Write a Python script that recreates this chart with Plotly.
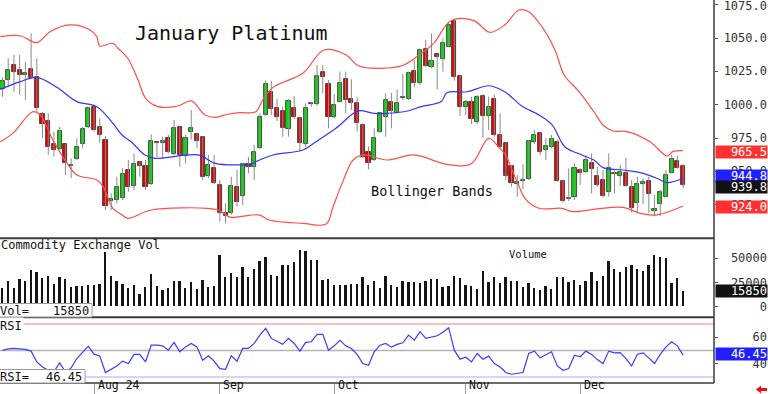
import plotly.graph_objects as go

# ---------------- data ----------------
idx = list(range(120))
opens = [1011.5, 1018.5, 1030.0, 1026.0, 1022.0, 1026.8, 1020.5, 993.0, 987.8, 970.5,
         967.0, 970.5, 953.8, 959.0, 970.3, 983.0, 998.0, 983.5, 973.7, 927.8,
         928.3, 930.2, 951.0, 939.2, 956.8, 954.0, 940.3, 971.8, 971.5, 975.2,
         962.8, 983.0, 961.5, 979.3, 978.0, 976.0, 946.8, 952.8, 939.8, 919.0,
         918.5, 938.5, 931.5, 955.3, 953.5, 967.3, 992.3, 1009.3, 997.8, 995.0,
         982.0, 997.8, 990.3, 970.5, 1000.5, 1000.3, 1024.5, 1015.3, 990.5, 1002.3,
         1019.3, 1004.3, 1001.0, 984.8, 964.3, 958.5, 979.8, 991.0, 1002.3, 994.0,
         1005.0, 1004.0, 1025.3, 1016.0, 1041.5, 1028.5, 1038.0, 1034.0, 1043.5, 1063.0,
         1021.5, 998.5, 1001.8, 987.3, 1006.8, 991.5, 1004.0, 977.3, 971.0, 954.3,
         940.3, 942.8, 944.3, 972.3, 979.0, 966.0, 968.5, 972.2, 943.0, 929.0,
         930.5, 951.0, 949.8, 956.6, 946.8, 943.5, 934.8, 948.0, 946.5, 949.0,
         938.0, 926.5, 940.3, 942.8, 920.5, 925.3, 931.0, 949.0, 957.5, 954.3]
highs = [1020.5, 1034.8, 1037.3, 1037.3, 1032.2, 1053.5, 1034.8, 994.7, 993.5, 979.7,
         983.5, 970.5, 959.8, 974.8, 983.5, 998.5, 999.0, 989.8, 976.5, 933.5,
         946.0, 952.3, 958.5, 963.5, 957.3, 958.5, 977.8, 972.2, 976.0, 977.3,
         988.5, 983.5, 977.3, 996.0, 978.5, 976.5, 962.3, 962.3, 943.5, 926.0,
         946.0, 951.0, 956.0, 961.0, 969.8, 993.5, 1018.0, 1018.0, 1004.3, 998.5,
         1004.3, 1006.5, 991.0, 1001.0, 1002.0, 1029.8, 1029.8, 1018.5, 1007.8, 1024.8,
         1024.8, 1019.0, 1005.8, 986.0, 968.5, 982.3, 994.7, 1008.5, 1009.0, 1011.5,
         1023.0, 1024.8, 1033.5, 1042.3, 1048.5, 1053.5, 1038.0, 1049.8, 1062.2, 1063.5,
         1022.3, 1003.5, 1005.8, 1007.3, 1007.8, 1006.0, 1007.3, 993.5, 971.3, 954.8,
         947.3, 955.3, 973.5, 981.0, 979.8, 974.8, 977.3, 973.5, 943.5, 952.3,
         956.0, 952.3, 962.3, 963.5, 953.5, 951.0, 963.5, 951.0, 954.8, 960.3,
         943.5, 946.0, 944.8, 946.0, 932.3, 936.0, 951.0, 962.3, 961.8, 955.5]
lows = [1006.0, 1013.0, 1009.7, 1007.3, 1003.5, 1019.3, 994.7, 974.8, 962.3, 961.0,
        966.0, 947.3, 944.8, 958.5, 967.3, 982.3, 979.7, 971.5, 921.0, 921.0,
        926.0, 928.5, 934.7, 936.0, 946.0, 936.0, 939.8, 960.8, 959.8, 963.5,
        962.3, 953.5, 956.0, 974.0, 967.3, 943.5, 944.8, 940.3, 912.3, 911.0,
        917.3, 923.5, 924.8, 948.5, 943.5, 966.8, 991.7, 992.3, 987.8, 976.0,
        976.0, 989.0, 964.8, 968.5, 998.5, 999.0, 1008.5, 982.3, 989.5, 1001.8,
        993.5, 996.0, 979.8, 959.8, 951.5, 958.0, 979.0, 976.0, 982.3, 993.5,
        1003.5, 1003.5, 1013.0, 1014.8, 1028.5, 1027.3, 1011.5, 1024.8, 1043.0, 1018.0,
        991.5, 992.3, 985.5, 985.5, 975.0, 981.0, 976.0, 967.5, 943.5, 938.5,
        931.0, 936.5, 943.5, 970.5, 962.3, 958.5, 967.3, 942.2, 926.8, 927.8,
        928.5, 939.8, 948.5, 933.5, 938.5, 930.5, 931.0, 933.5, 939.0, 938.5,
        919.0, 918.5, 925.5, 919.0, 916.5, 916.5, 930.5, 948.5, 952.3, 937.3]
closes = [1017.8, 1025.8, 1024.7, 1022.5, 1023.5, 1019.8, 997.3, 985.3, 968.0, 966.3,
          980.3, 956.0, 954.8, 968.3, 981.8, 997.5, 981.0, 977.3, 924.3, 929.5,
          938.0, 948.0, 938.5, 955.3, 954.0, 938.0, 973.0, 971.3, 971.8, 964.5,
          982.3, 962.3, 975.2, 982.3, 972.8, 946.0, 955.0, 941.0, 918.5, 916.8,
          939.0, 927.3, 955.3, 953.0, 964.8, 991.0, 1015.5, 996.5, 991.0, 982.8,
          1002.8, 991.0, 971.5, 997.8, 1000.2, 1021.5, 1021.0, 990.5, 999.8, 1016.0,
          1003.5, 1001.0, 986.0, 961.0, 956.0, 974.8, 993.5, 1003.5, 995.5, 1001.5,
          1004.7, 1024.0, 1016.0, 1041.0, 1029.3, 1033.0, 1036.0, 1046.5, 1059.8, 1020.5,
          998.5, 1001.8, 989.3, 1005.5, 991.5, 998.0, 977.3, 968.3, 946.5, 941.3,
          942.3, 943.5, 973.0, 977.3, 964.3, 969.3, 974.0, 942.8, 927.8, 930.0,
          952.8, 948.5, 958.5, 951.4, 939.8, 931.5, 952.3, 948.5, 949.3, 939.0,
          922.3, 940.5, 942.0, 932.8, 921.8, 934.8, 947.3, 959.0, 952.8, 939.8]
volume = [19000, 25800, 19000, 28600, 26500, 37900, 35500, 29300, 31400, 23100,
          30000, 28600, 19700, 20700, 20700, 22400, 21700, 23100, 56200, 31000,
          25800, 23100, 19000, 22400, 13100, 20000, 33500, 21400, 17300, 19000,
          26500, 26500, 19000, 24800, 18300, 26900, 20000, 20700, 52700, 30300,
          34500, 30000, 40300, 30000, 38900, 47200, 51000, 32700, 31000, 43100,
          42400, 45500, 58600, 57500, 48200, 48200, 26900, 28300, 22400, 22400,
          22400, 23100, 23100, 30300, 22400, 25800, 19000, 31700, 21700, 20000,
          26500, 24800, 25200, 24200, 26500, 28300, 28300, 20000, 20700, 31700,
          29300, 21700, 20700, 18300, 36900, 24800, 30300, 24200, 30700, 25800,
          25800, 19700, 24200, 19000, 17300, 20700, 18300, 30000, 30000, 25200,
          26900, 21700, 25800, 35500, 25800, 31000, 46500, 38900, 35200, 40700,
          43100, 38900, 36900, 42400, 53400, 50600, 50000, 24200, 29300, 15850]
rsi = [50.0, 51.2, 51.5, 51.0, 50.8, 49.5, 41.3, 37.5, 35.0, 34.0,
       40.6, 33.7, 36.8, 43.9, 48.9, 53.3, 47.2, 45.9, 33.3, 35.8,
       38.3, 41.9, 40.1, 47.0, 47.0, 41.3, 54.0, 54.0, 53.5, 50.2,
       56.1, 49.0, 52.7, 55.3, 52.7, 42.6, 45.9, 41.9, 36.3, 35.8,
       45.9, 41.9, 51.5, 51.5, 55.3, 61.6, 66.7, 59.1, 57.1, 54.6,
       59.1, 55.3, 49.5, 56.1, 56.6, 62.2, 62.2, 50.2, 53.5, 57.6,
       53.5, 51.5, 47.0, 40.1, 38.8, 49.0, 54.0, 55.3, 52.5, 54.6,
       55.8, 61.6, 57.8, 64.2, 59.1, 59.9, 61.1, 63.7, 67.2, 50.2,
       43.4, 44.9, 41.3, 47.7, 43.4, 45.7, 40.1, 37.5, 33.3, 32.0,
       32.5, 33.3, 47.7, 49.5, 44.4, 47.0, 49.0, 38.3, 35.0, 36.3,
       46.4, 45.2, 49.5, 47.0, 43.1, 40.1, 49.5, 48.2, 48.4, 43.9,
       38.3, 47.2, 48.2, 44.4, 40.1, 47.0, 52.7, 56.6, 53.5, 46.45]

upper_x = [-0.4, 3.1, 6.0, 8.3, 11.8, 15.3, 16.5, 17.0, 19.3, 20.2, 21.9, 23.7, 25.1, 27.2,
           30.7, 33.0, 35.4, 37.2, 39.4, 41.5, 44.3, 45.5, 47.3, 52.5, 56.2, 60.1, 62.2,
           66.2, 70.2, 73.2, 75.4, 78.4, 82.4, 85.2, 87.8, 90.3, 92.0, 94.3, 96.6, 98.2,
           100.8, 103.4, 105.0, 106.7, 109.2, 113.2, 116.2, 117.2, 119]
upper = [1051.0, 1051.7, 1046.5, 1054.7, 1059.8, 1056.0, 1051.0, 1044.0, 1046.0, 1042.3,
         1034.8, 1018.5, 1004.3, 998.5, 999.0, 1002.8, 992.3, 990.5, 992.8, 994.0, 994.7,
         1003.5, 1013.0, 1023.5, 1041.0, 1037.3, 1029.2, 1027.3, 1029.8, 1038.5, 1046.0,
         1063.0, 1063.0, 1054.3, 1059.8, 1071.0, 1069.7, 1058.5, 1041.0, 1022.3, 1009.8,
         994.7, 984.8, 980.3, 979.8, 972.2, 961.5, 964.8, 965.5]
mid_x = [-0.4, 3.1, 6.0, 9.5, 13.0, 16.5, 19.3, 20.9, 22.5, 24.9, 26.7, 34.2, 37.2, 41.5,
         43.1, 44.3, 47.3, 52.5, 54.8, 58.3, 62.2, 65.0, 70.2, 73.2, 76.7, 77.7, 81.2,
         85.1, 87.8, 90.8, 93.8, 96.1, 98.3, 101.3, 103.4, 105.0, 108.5, 111.5, 114.4,
         116.2, 119]
mid = [1011.5, 1017.3, 1020.5, 1013.0, 1002.3, 998.5, 986.0, 977.3, 972.2, 962.3, 959.8,
       962.3, 956.0, 954.8, 954.8, 957.3, 962.3, 966.0, 972.2, 982.3, 995.3, 993.5, 994.7,
       998.5, 1002.3, 1009.0, 1009.7, 1014.2, 1009.7, 999.0, 992.3, 984.8, 968.5, 962.3,
       958.5, 952.8, 951.0, 949.0, 944.8, 941.5, 944.8]
lower_x = [-0.4, 1.8, 5.3, 6.6, 8.8, 11.3, 13.0, 16.5, 17.6, 19.3, 20.9, 21.9, 26.0, 35.9,
           37.7, 39.9, 41.5, 44.8, 46.6, 52.5, 56.6, 57.8, 59.5, 61.3, 63.2, 67.2, 71.9,
           77.7, 81.9, 85.0, 86.8, 88.0, 89.1, 90.3, 91.3, 93.8, 97.8, 99.6, 103.4, 108.5,
           111.5, 114.4, 119]
lower = [972.2, 978.5, 994.7, 992.3, 973.5, 956.0, 947.3, 943.5, 938.5, 922.3, 917.3,
         914.8, 921.0, 922.3, 921.0, 915.5, 916.0, 917.3, 913.5, 911.0, 910.5, 923.5, 942.3,
         958.5, 962.3, 958.5, 962.3, 955.3, 955.5, 974.8, 968.0, 962.0, 951.0, 939.0, 930.0,
         922.3, 922.3, 919.8, 921.5, 923.0, 918.5, 917.3, 924.0]

price_ticks = [1075, 1050, 1025, 1000, 975, 950, 925]
price_tick_labels = ["1075.0", "1050.0", "1025.0", "1000.0", "975.0", "950.0", "925.0"]
vol_ticks = [50000, 25000, 0]
vol_tick_labels = ["50000", "25000", "0"]
rsi_ticks = [60, 40]
rsi_tick_labels = ["60", "40"]
rsi_levels = [70, 50, 30]
month_idx = [16, 38, 58, 81, 101]
month_labels = ["Aug 24", "Sep", "Oct", "Nov", "Dec"]

last_upper, last_mid, last_close, last_lower = 965.5, 944.8, 939.8, 924.0
last_vol, last_rsi = 15850, 46.45

# ---------------- geometry ----------------
W, H = 768, 394
PW, PH = 714, 383          # plot area in pixels
def py(px):                 # pixel row -> paper y
    return 1 - px / PH
def pxx(px):                # pixel col -> paper x
    return px / PW

dom_price = [py(238.3), 1]
dom_vol = [py(317.3), py(238.3)]
dom_rsi = [0, py(317.3)]

MONO = "DejaVu Sans Mono"
GREEN, RED = "#00dd00", "#e80000"

fig = go.Figure()

# wicks
wx, wy = [], []
for i, h, l in zip(idx, highs, lows):
    wx += [i, i, None]
    wy += [l, h, None]
fig.add_trace(go.Scatter(x=wx, y=wy, mode="lines", line=dict(color="#8a8a8a", width=1),
                         hoverinfo="skip", showlegend=False, xaxis="x", yaxis="y"))

# bodies
base = [min(o, c) for o, c in zip(opens, closes)]
height = [max(abs(c - o), 0.9) for o, c in zip(opens, closes)]
cols = [GREEN if c >= o else RED for o, c in zip(opens, closes)]
fig.add_trace(go.Bar(x=idx, y=height, base=base, width=0.72, marker=dict(color=cols,
                     line=dict(color="#2a2a2a", width=0.8)), showlegend=False,
                     xaxis="x", yaxis="y"))

# bands
fig.add_trace(go.Scatter(x=upper_x, y=upper, mode="lines", line=dict(color="#ff4d4d", width=1.2, shape="spline"),
                         showlegend=False, xaxis="x", yaxis="y"))
fig.add_trace(go.Scatter(x=lower_x, y=lower, mode="lines", line=dict(color="#ff4d4d", width=1.2, shape="spline"),
                         showlegend=False, xaxis="x", yaxis="y"))
fig.add_trace(go.Scatter(x=mid_x, y=mid, mode="lines", line=dict(color="#3535ff", width=1.2, shape="spline"),
                         showlegend=False, xaxis="x", yaxis="y"))

# volume
fig.add_trace(go.Bar(x=idx, y=volume, width=0.32, marker=dict(color="#151515", line=dict(width=0)),
                     showlegend=False, xaxis="x2", yaxis="y2"))

# RSI
fig.add_trace(go.Scatter(x=idx, y=rsi, mode="lines", line=dict(color="#3c3cff", width=1.2),
                         showlegend=False, xaxis="x3", yaxis="y3"))

xr = [-0.437, 124.4]
common_x = dict(range=xr, showgrid=False, zeroline=False, showticklabels=False, fixedrange=True)
common_y = dict(side="right", showgrid=False, zeroline=False, showticklabels=False,
                ticks="outside", ticklen=3, tickcolor="#555", fixedrange=True)

fig.update_layout(
    width=W, height=H, margin=dict(l=0, r=W - PW, t=0, b=H - PH),
    paper_bgcolor="white", plot_bgcolor="white", showlegend=False, bargap=0,
    xaxis=dict(domain=[0, 1], anchor="y", **common_x),
    xaxis2=dict(domain=[0, 1], anchor="y2", matches="x", **common_x),
    xaxis3=dict(domain=[0, 1], anchor="y3", matches="x", ticks="outside", ticklen=11,
                tickcolor="#999", tickvals=month_idx, **common_x),
    yaxis=dict(domain=dom_price, range=[899.8, 1078.5], anchor="x", tickvals=price_ticks, **common_y),
    yaxis2=dict(domain=dom_vol, range=[-10950, 70660], anchor="x2", tickvals=vol_ticks, **common_y),
    yaxis3=dict(domain=dom_rsi, range=[25.38, 75.08], anchor="x3", tickvals=rsi_ticks, **common_y),
)

shapes = []
rsi_cols = ["#f7a8a8", "#b4b4b4", "#c6c6ff"]
for lv, c in zip(rsi_levels, rsi_cols):
    shapes.append(dict(type="line", xref="paper", yref="y3", x0=0, x1=1, y0=lv, y1=lv,
                       line=dict(color=c, width=1.5), layer="below"))
for yy in [238.3, 317.3]:
    shapes.append(dict(type="line", xref="paper", yref="paper", x0=0, x1=1, y0=py(yy), y1=py(yy),
                       line=dict(color="#3a3a3a", width=2)))
shapes.append(dict(type="line", xref="paper", yref="paper", x0=0, x1=1, y0=0, y1=0,
                   line=dict(color="#3a3a3a", width=1.5)))
shapes.append(dict(type="line", xref="paper", yref="paper", x0=1, x1=1, y0=0, y1=1,
                   line=dict(color="#3a3a3a", width=1.5)))
# left info boxes
shapes.append(dict(type="rect", xref="paper", yref="paper", x0=pxx(-2), x1=pxx(92), y0=py(317), y1=py(303.5),
                   fillcolor="white", line=dict(color="#999", width=1)))
shapes.append(dict(type="rect", xref="paper", yref="paper", x0=pxx(-2), x1=pxx(85), y0=py(383), y1=py(369.5),
                   fillcolor="white", line=dict(color="#999", width=1)))
# red arrow bottom right
pts = [(756, 389.5), (761, 385.5), (761, 388), (767, 388), (767, 391), (761, 391), (761, 393.5)]
path = "M " + " L ".join(f"{pxx(a):.5f},{py(b):.5f}" for a, b in pts) + " Z"
shapes.append(dict(type="path", xref="paper", yref="paper", path=path, fillcolor="#ee1111",
                   line=dict(color="#ee1111", width=0)))
fig.update_layout(shapes=shapes)

ann = []
def txt(text, x, y, size=12, color="#111", xanchor="left", yanchor="middle", **kw):
    ann.append(dict(text=text, x=x, y=y, xref=kw.pop("xref", "paper"), yref=kw.pop("yref", "paper"),
                    xanchor=xanchor, yanchor=yanchor, showarrow=False,
                    font=dict(family=MONO, size=size, color=color), **kw))

txt("January Platinum", pxx(231.5), py(33), size=20, xanchor="center")
txt("Bollinger Bands", pxx(431.5), py(191), size=13.5, xanchor="center")
txt("Commodity Exchange Vol", pxx(-1), py(245), size=12)
txt("Volume", pxx(528), py(254), size=10.5, xanchor="center")
txt("Vol=", pxx(-2), py(310.5), size=12)
txt("15850", pxx(91), py(310.5), size=12, xanchor="right")
txt("RSI", pxx(-2), py(325.5), size=12, bgcolor="white")
txt("RSI=", pxx(-2), py(376.5), size=12)
txt("46.45", pxx(84), py(376.5), size=12, xanchor="right")
for m, lab in zip(month_idx, month_labels):
    txt(lab, m, py(393.5), size=11.5, xref="x3", xshift=1.5, yanchor="bottom")

def rlabel(text, y, yref, bg=None, color="#333", yshift=0):
    d = dict(width=51, height=12, align="right", borderpad=0, yshift=yshift)
    if bg:
        d["bgcolor"] = bg
    txt(text, 1.0, y, size=12, color=color, yref=yref, xshift=1, **d)

for v, lab in zip(price_ticks, price_tick_labels):
    rlabel(lab, v, "y", yshift=(-1.5 if v == max(price_ticks) else 0))
for v, lab in zip(vol_ticks, vol_tick_labels):
    rlabel(lab, v, "y2")
for v, lab in zip(rsi_ticks, rsi_tick_labels):
    rlabel(lab, v, "y3")

rlabel(f"{last_upper:.1f}", last_upper, "y", bg="#ff3030", color="white", yshift=-1)
rlabel(f"{last_mid:.1f}", last_mid, "y", bg="#2020ff", color="white", yshift=2)
rlabel(f"{last_close:.1f}", last_close, "y", bg="#111111", color="white", yshift=-2)
rlabel(f"{last_lower:.1f}", last_lower, "y", bg="#ff3030", color="white", yshift=-1)
rlabel(f"{last_vol}", last_vol, "y2", bg="#111111", color="white")
rlabel(f"{last_rsi:.2f}", last_rsi, "y3", bg="#2020ff", color="white", yshift=1)

fig.update_layout(annotations=ann)
fig.write_html("out.html", config={"displayModeBar": False},
               post_script="document.body.style.margin='0px';document.body.style.overflow='hidden';")
